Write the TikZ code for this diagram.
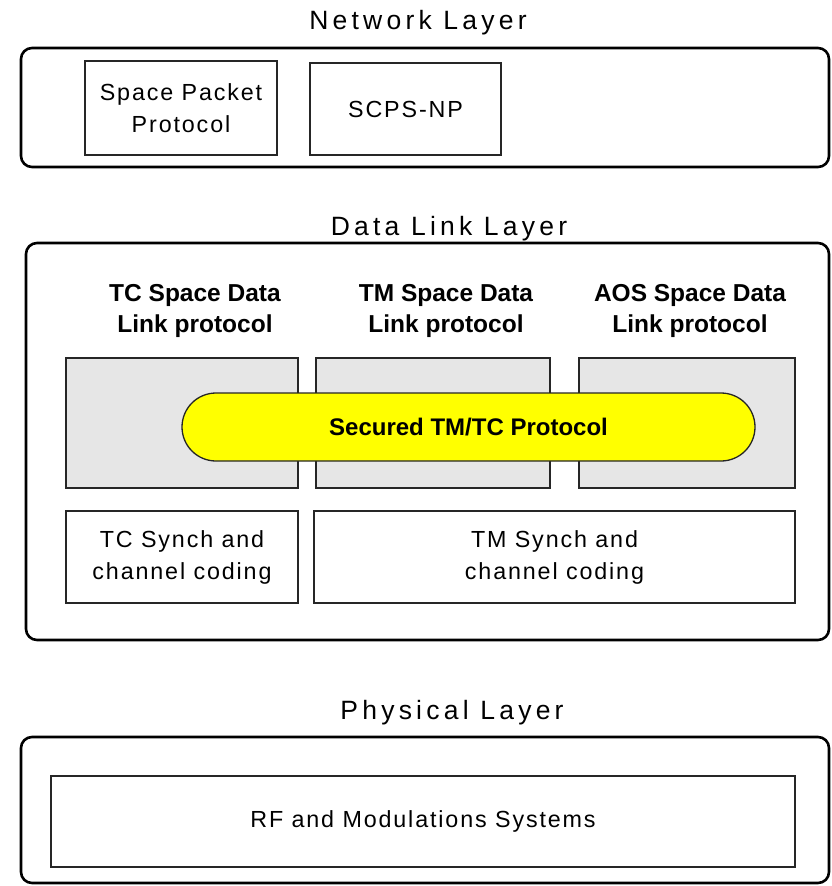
\documentclass[tikz,border=0pt]{standalone}
\usepackage{fontspec}
\setmainfont{Liberation Sans}
\newfontfamily\regf[LetterSpace=8]{Liberation Sans}
\newfontfamily\titlef[LetterSpace=16]{Liberation Sans}
\usetikzlibrary{shapes.misc}
\definecolor{boxgray}{HTML}{E6E6E6}
\definecolor{capyellow}{HTML}{FFFF00}
\tikzset{
  layerbox/.style={draw=black, line width=2.6pt, rounded corners=11pt, inner sep=0pt},
  plainbox/.style={draw=black!85, line width=1.3pt, fill=white, inner sep=0pt, align=center,
    font=\regf\fontsize{23.3}{32}\selectfont},
  graybox/.style={draw=black!85, line width=1.3pt, fill=boxgray, inner sep=0pt},
  capsule/.style={draw=black!85, line width=1.3pt, fill=capyellow, rounded rectangle, inner sep=0pt,
    font=\bfseries\fontsize{24}{30}\selectfont},
  layertitle/.style={anchor=base, inner sep=0pt, font=\titlef\fontsize{26.5}{32}\selectfont},
  header/.style={align=center, inner sep=0pt, font=\bfseries\fontsize{24.5}{31}\selectfont}
}
\begin{document}
\begin{tikzpicture}[x=1pt,y=-1pt]
\useasboundingbox (0,0) rectangle (831,886);
% Network layer
\node[layertitle] (nettitle) at (418,29) {Network Layer};
\node[layerbox, minimum width=808pt, minimum height=119pt] (netlayer) at (425,107.5) {};
\node[plainbox, minimum width=192pt, minimum height=94pt] (spp) at (181,108) {Space Packet\\Protocol};
\node[plainbox, minimum width=191pt, minimum height=92pt] (scps) at (405.5,109) {SCPS-NP};
% Data link layer
\node[layertitle] (dltitle) at (449,235) {Data Link Layer};
\node[layerbox, minimum width=803pt, minimum height=397pt] (dllayer) at (427.5,441.5) {};
\node[header] (tch) at (195,311) {TC Space Data\\Link protocol};
\node[header] (tmh) at (446,311) {TM Space Data\\Link protocol};
\node[header] (aosh) at (690,311) {AOS Space Data\\Link protocol};
\node[graybox, minimum width=232pt, minimum height=130pt] (tcg) at (182,423) {};
\node[graybox, minimum width=234pt, minimum height=130pt] (tmg) at (433,423) {};
\node[graybox, minimum width=216pt, minimum height=130pt] (aosg) at (687,423) {};
\node[capsule, minimum width=573pt, minimum height=68pt] (sec) at (468.5,427) {Secured TM/TC Protocol};
\node[plainbox, minimum width=232pt, minimum height=92pt] (tcsync) at (182,557) {TC Synch and\\channel coding};
\node[plainbox, minimum width=481pt, minimum height=92pt] (tmsync) at (554.5,557) {TM Synch and\\channel coding};
% Physical layer
\node[layertitle] (phtitle) at (452,719) {Physical Layer};
\node[layerbox, minimum width=808pt, minimum height=146pt] (phlayer) at (425,810) {};
\node[plainbox, minimum width=744pt, minimum height=91pt] (rf) at (423,821.5) {RF and Modulations Systems};
\end{tikzpicture}
\end{document}
